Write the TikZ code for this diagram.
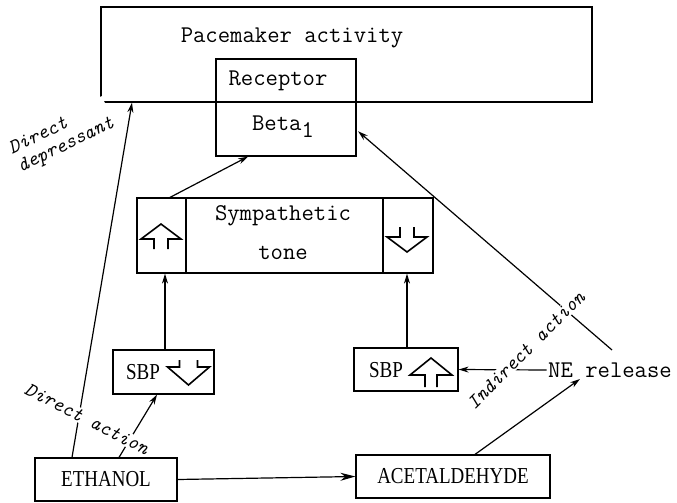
\documentclass[tikz,border=0pt]{standalone}
\usepackage{fontspec}
\newfontfamily\rmcap{Liberation Serif}
\usetikzlibrary{arrows.meta,calc}
\begin{document}
\begin{tikzpicture}[x=1pt,y=-1pt, line width=1.2pt,
  box/.style={draw, rectangle, inner sep=0pt},
  tw/.style={font=\ttfamily\fontsize{24}{39}\selectfont, inner sep=1pt},
  rm/.style={font=\rmcap\fontsize{19}{22}\selectfont},
  lab/.style={font=\ttfamily\itshape\fontsize{20}{20}\selectfont, fill=white, inner sep=1pt, align=left},
  arr/.style={-{Stealth[length=10pt,width=6pt]}},
  pics/harrow/.style n args={5}{code={\draw[line width=1.6pt] (-#2,#5) -- (-#2,#4) -- (-#1,#4) -- (0,#3) -- (#1,#4) -- (#2,#4) -- (#2,#5);}}
]
\useasboundingbox (0,0) rectangle (677,503);
% boxes
\node[box, minimum width=491pt, minimum height=95pt] (pace) at (346.5,54.5) {};
\node[tw] (pacetxt) at (292,38) {Pacemaker activity};
\node[box, minimum width=140pt, minimum height=97pt] (rec) at (286,107.5) {};
\node[tw] (rectxt) at (278,81) {Receptor};
\node[tw] (beta) at (283,127) {Beta\raisebox{-7pt}{1}};
\node[box, minimum width=296pt, minimum height=75pt] (sym) at (285,235.5) {};
\draw (sym.north -| 186,0) -- (sym.south -| 186,0);
\draw (sym.north -| 383,0) -- (sym.south -| 383,0);
\node[tw, align=center] (symtxt) at (283,233) {Sympathetic\\tone};
\pic at (161,0) {harrow={20}{7}{224}{239}{249}};
\pic at (407,0) {harrow={20}{7}{252}{237}{227}};
\node[box, minimum width=101pt, minimum height=44pt] (sbpd) at (163.5,372) {};
\node[rm] (sbpdtxt) at (143,372) {\scalebox{1}[1.2]{SBP}};
\pic at (188.5,0) {harrow={21}{9}{385}{367}{360}};
\node[box, minimum width=104pt, minimum height=43pt] (sbpu) at (406,369.5) {};
\node[rm] (sbputxt) at (386,370) {\scalebox{1}[1.2]{SBP}};
\pic at (431,0) {harrow={21}{6}{358}{375}{387}};
\node[box, rm, minimum width=142pt, minimum height=43pt] (eth) at (106,479.5) {\scalebox{1}[1.2]{ETHANOL}};
\node[box, rm, minimum width=194pt, minimum height=43pt] (acet) at (453,476.5) {\scalebox{1}[1.2]{ACETALDEHYDE}};
\node[tw] (ne) at (610,370) {NE release};
% connectors
\draw[arr] (72,0 |- eth.north) -- (132,0 |- pace.south);
\draw[arr] (119,0 |- eth.north) -- (157,0 |- sbpd.south);
\draw[arr] (165,0 |- sbpd.north) -- (165,0 |- sym.south);
\draw[arr] (170,0 |- sym.north) -- (248,0 |- rec.south);
\draw[arr] (407,0 |- sbpu.north) -- (407,0 |- sym.south);
\draw[arr] (ne.west) -- (sbpu.east);
\draw[arr] (475,0 |- acet.north) -- (580,0 |- ne.south);
\draw[arr, shorten >=2pt] ([xshift=2pt,yshift=11pt]ne.north) -- (rec.east |- 0,130);
\draw[-{Stealth[length=15pt,width=8pt]}] (eth.east) -- (acet.west);
% labels
\node[lab, rotate=26] (ddlab) at (62,137) {Direct\\depressant};
\node[lab, rotate=-27] (dalab) at (87,419) {Direct action};
\node[lab, rotate=45] (ialab) at (526,350) {Indirect action};
\end{tikzpicture}
\end{document}
